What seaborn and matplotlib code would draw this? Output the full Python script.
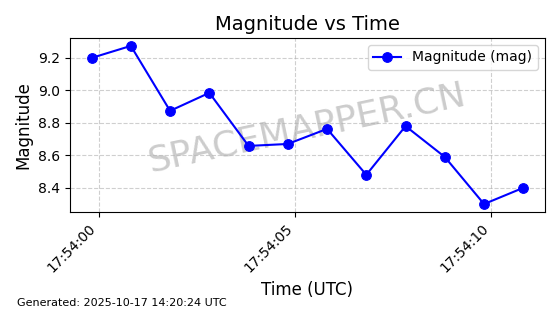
import matplotlib
matplotlib.use("Agg")
import matplotlib.pyplot as plt
import matplotlib.dates as mdates
import seaborn as sns
import pandas as pd

times = ["17:53:59.82", "17:54:00.82", "17:54:01.82", "17:54:02.82", "17:54:03.82", "17:54:04.82",
         "17:54:05.82", "17:54:06.82", "17:54:07.82", "17:54:08.82", "17:54:09.82", "17:54:10.82"]
magnitudes = [9.20, 9.274, 8.874, 8.985, 8.658, 8.67, 8.763, 8.48, 8.78, 8.59, 8.30, 8.40]
series_label = "Magnitude (mag)"

df = pd.DataFrame({
    "time": pd.to_datetime(["2025-10-17 " + t for t in times]),
    "mag": magnitudes,
})

plt.rcParams['font.family'] = ['DejaVu Sans']
fig, ax = plt.subplots(figsize=(5.6, 3.14), dpi=100)
fig.subplots_adjust(left=0.125, right=0.973, top=0.879, bottom=0.325)

sns.lineplot(data=df, x="time", y="mag", ax=ax, color="blue", marker="o",
             markersize=7, markeredgecolor="blue", linewidth=1.5, label=series_label,
             zorder=3)

ax.set_title("Magnitude vs Time", fontsize=14)
ax.set_xlabel("Time (UTC)", fontsize=12)
ax.set_ylabel("Magnitude", fontsize=12)
ax.grid(True, linestyle="--", alpha=0.6)
ax.xaxis.set_major_locator(mdates.SecondLocator(bysecond=[0, 5, 10, 15, 20, 25, 30, 35, 40, 45, 50, 55]))
ax.xaxis.set_major_formatter(mdates.DateFormatter("%H:%M:%S"))
plt.setp(ax.get_xticklabels(), rotation=45, ha="right")
ax.tick_params(labelsize=10)
ax.legend(loc="upper right", fontsize=10)

ax.text(0.5, 0.48, "SPACEMAPPER.CN", transform=ax.transAxes, fontsize=26,
        color="gray", alpha=0.4, rotation=12, ha="center", va="center", zorder=1)
fig.text(0.03, 0.025, "Generated: 2025-10-17 14:20:24 UTC", fontsize=8)

fig.savefig("out.png", dpi=100)
